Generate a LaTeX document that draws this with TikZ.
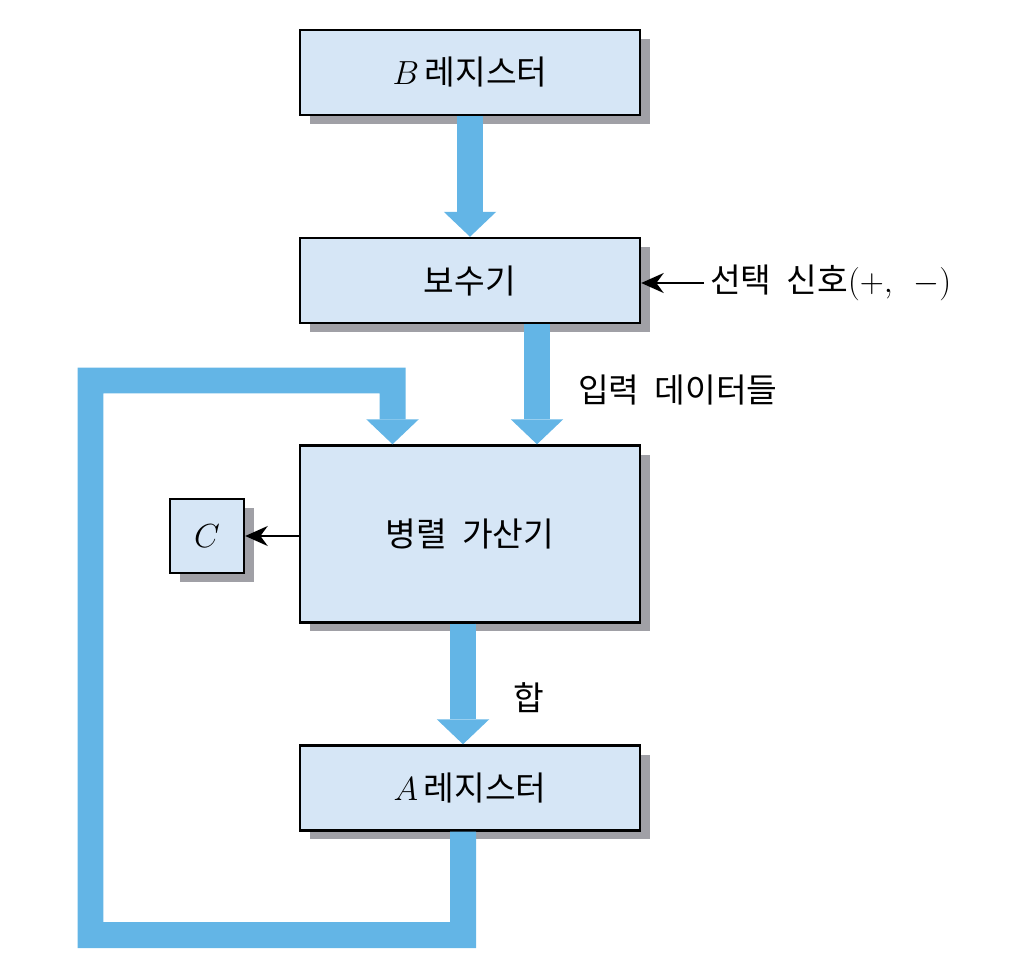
\RequirePackage{fix-cm}
\documentclass[tikz,border=0pt]{standalone}
\usepackage{fontspec}
\setmainfont{Noto Sans CJK KR}[WordSpace=2]
\usetikzlibrary{arrows.meta,positioning,shadows}
\definecolor{RegFill}{RGB}{214,230,246}
\definecolor{FlowBlue}{RGB}{99,181,230}
\definecolor{ShadowGray}{RGB}{160,160,166}

\begin{document}
\begin{tikzpicture}[x=0.02cm,y=-0.02cm,
    reg/.style={rectangle,draw=black,line width=1.4pt,fill=RegFill,
                minimum width=6.8cm,minimum height=1.7cm,
                font=\fontsize{19}{23}\selectfont,
                general shadow={fill=ShadowGray,shadow xshift=0.2cm,shadow yshift=-0.18cm}},
    flow/.style={draw=FlowBlue,line width=0.52cm,line join=miter,
                 -{Triangle[width=1.05cm,length=0.5cm,line width=0pt]}},
    lbl/.style={font=\fontsize{19}{23}\selectfont},
    sig/.style={-{Stealth[length=0.45cm,width=0.4cm]},line width=1.1pt}
  ]
  \useasboundingbox (0,0) rectangle (1010,976);

  % registers and units
  \node[reg] (breg) at (470,72.5) {$B$\,레지스터};
  \node[reg] (comp) at (470,280.5) {보수기};
  \node[reg,minimum height=3.54cm] (add) at (470,534) {병렬 가산기};
  \node[reg,minimum width=1.48cm,minimum height=1.48cm] (carry) at (207,536) {$C$};
  \node[reg] (areg) at (470,788) {$A$\,레지스터};

  % labels
  \node[lbl,anchor=west] (sel) at (704,283) {선택 신호$(+,\ -)$};
  \node[lbl,anchor=west] (inp) at (572,390) {입력 데이터들};
  \node[lbl] (sum) at (529,698) {합};

  % data paths
  \draw[flow] (breg.south) -- (comp.north);
  \draw[flow] ([xshift=1.34cm]comp.south) -- ([xshift=1.34cm]add.north);
  \draw[flow] ([xshift=-0.14cm]add.south) -- ([xshift=-0.14cm]areg.north);
  \draw[flow] ([xshift=-0.14cm]areg.south) |- (90.5,935) |- (392.5,380.5)
    -- ([xshift=-1.55cm]add.north);

  % control lines
  \draw[sig] (sel.west) -- (sel.west -| comp.east);
  \draw[sig] (carry.east -| add.west) -- (carry.east);
\end{tikzpicture}
\end{document}
